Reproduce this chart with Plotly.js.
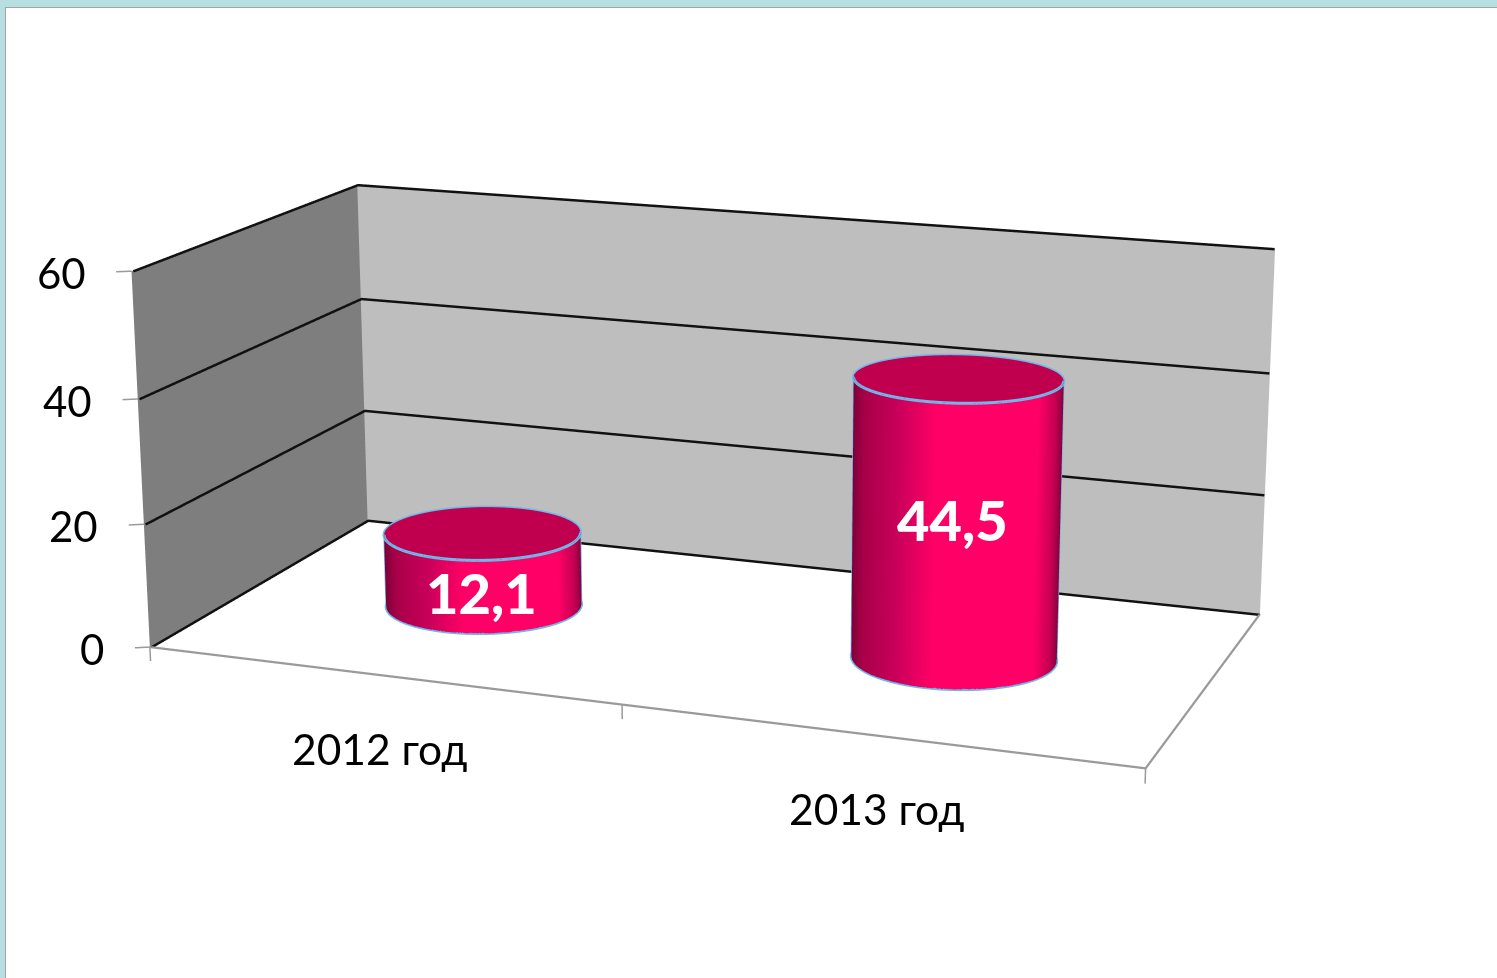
<!DOCTYPE html>
<html><head><meta charset="utf-8">
<script src="https://cdn.plot.ly/plotly-3.0.1.min.js"></script>
<style>
html,body{margin:0;padding:0;width:1497px;height:978px;overflow:hidden;background:#b7dfe2}
#clip{position:absolute;left:5px;top:7px;width:1492px;height:971px;overflow:hidden;background:#fff;border-left:1px solid #a5a5a5;border-top:1px solid #a5a5a5}
#chart{position:absolute;left:-57.5px;top:-948px;width:1600px;height:2858px}
</style></head><body>
<div id="clip"><div id="chart"></div></div>
<script>
const categories = ['2012 год','2013 год'];
const values = [12.1, 44.5];
const valueLabels = ['12,1','44,5'];
const zTicks = [0,20,40,60];

const RX=0.2, RY=0.2, N=72;
const gray='#9a9a9a', black='#111', blue='#6db9ea';
const FONT='Lato, Carlito, sans-serif';
const traces=[];
function flat(xs,ys,zs,color){
  traces.push({type:'surface',x:xs,y:ys,z:zs,surfacecolor:zs.map(r=>r.map(()=>0)),cmin:0,cmax:1,
    colorscale:[[0,color],[1,color]],showscale:false,hoverinfo:'skip',
    lighting:{ambient:1,diffuse:0,specular:0,roughness:1,fresnel:0}});
}
function line(xs,ys,zs,color,width){
  traces.push({type:'scatter3d',mode:'lines',x:xs,y:ys,z:zs,line:{color:color,width:width},hoverinfo:'skip',showlegend:false});
}
flat([[0,2],[0,2]],[[1,1],[1,1]],[[0,0],[60,60]],'#bebebe');
flat([[0,0],[0,0]],[[0,1],[0,1]],[[0,0],[60,60]],'#7e7e7e');
zTicks.forEach(t=>{
  line([0.004,0.004,2],[0,0.995,0.995],[t,t,t],black,5);
  line([-0.025,0],[-0.015,0],[t,t],gray,3);
});
line([0,2,2],[0,0,1],[0,0,0],gray,4.5);
[0,1,2].forEach(x=>line([x,x],[0,0],[0,-2.3],gray,3));
values.forEach((v,i)=>{
  const cx=i+0.5, cy=0.5;
  const th=[];for(let k=0;k<=N;k++)th.push(2*Math.PI*k/N);
  const xr=th.map(a=>cx+RX*Math.cos(a)), yr=th.map(a=>cy+RY*Math.sin(a));
  const sil=Math.atan(((2.089-(cx-1)*0.904)/(RX*0.904))/(5.534/(RY*0.869)));
  const shade=th.map(a=>Math.cos(a-sil));
  traces.push({type:'surface',x:[xr,xr],y:[yr,yr],z:[xr.map(()=>0),xr.map(()=>v)],
    surfacecolor:[shade,shade],cmin:-1,cmax:1,
    colorscale:[[0,'#7d0038'],[0.06,'#a80048'],[0.22,'#c8005a'],[0.4,'#ff0066'],[0.88,'#ff0066'],[0.96,'#c40052'],[1,'#8a003c']],
    showscale:false,hoverinfo:'skip',lighting:{ambient:1,diffuse:0,specular:0,roughness:1,fresnel:0}});
  const capX=[xr.map(()=>cx),xr], capY=[yr.map(()=>cy),yr], capZ=[xr.map(()=>v),xr.map(()=>v)];
  flat(capX,capY,capZ,'#c0004f');
  line(xr,yr,xr.map(()=>v),blue,6);
  line(xr,yr,xr.map(()=>0),blue,6);
  [sil,sil+Math.PI].forEach(a=>{
    const ex=cx+RX*Math.cos(a), ey=cy+RY*Math.sin(a);
    line([ex,ex],[ey,ey],[0,v],blue,3);
  });
});
const anns=[];
zTicks.forEach(t=>anns.push({x:0,y:0,z:t,text:String(t),showarrow:false,xanchor:'right',xshift:-44,yshift:-2,
  font:{family:FONT,size:42,color:'#000'}}));
categories.forEach((c,i)=>anns.push({x:i+0.5,y:0,z:0,text:c,showarrow:false,yshift:-73,
  font:{family:FONT,size:42.5,color:'#000'}}));
const labelYShift=[-24,0], labelXShift=[-2,-4];
values.forEach((v,i)=>anns.push({x:i+0.5,y:0.5,z:v*0.5,text:valueLabels[i],showarrow:false,
  xshift:labelXShift[i],yshift:labelYShift[i],
  font:{family:FONT,size:56,color:'#fff',weight:900}}));
const hid={visible:false,showgrid:false,zeroline:false,showbackground:false,showspikes:false,autorange:false};
Plotly.newPlot('chart',traces,{
  width:1600,height:2858,margin:{l:0,r:0,t:0,b:0},showlegend:false,
  paper_bgcolor:'rgba(0,0,0,0)',
  scene:{
    bgcolor:'rgba(0,0,0,0)',
    xaxis:Object.assign({range:[-0.1,2.02]},hid),
    yaxis:Object.assign({range:[-0.15,1.02]},hid),
    zaxis:Object.assign({range:[-5,61]},hid),
    aspectmode:'manual',aspectratio:{x:1.9165,y:1.0167,z:0.748},
    camera:{eye:{x:2.1352,y:-5.4775,z:1.59},center:{x:0.0432,y:0.2245,z:-0.0963},up:{x:-0.004,y:0,z:1},projection:{type:'perspective'}},
    annotations:anns
  }
},{displayModeBar:false});
</script></body></html>
